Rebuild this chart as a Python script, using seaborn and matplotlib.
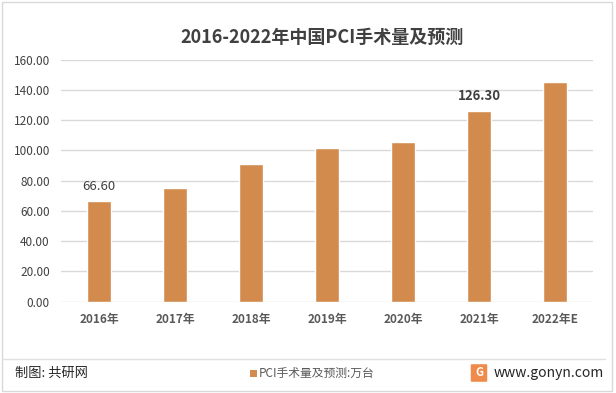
import matplotlib
matplotlib.use("Agg")
import matplotlib.pyplot as plt
import seaborn as sns
import pandas as pd
from matplotlib.patches import Rectangle, FancyBboxPatch
from matplotlib.lines import Line2D

years = ["2016年", "2017年", "2018年", "2019年", "2020年", "2021年", "2022年E"]
values = [66.6, 75.2, 91.0, 101.5, 105.5, 126.3, 145.2]
labeled = {"2016年": "66.60", "2021年": "126.30"}
yticks = [0, 20, 40, 60, 80, 100, 120, 140, 160]
title = "2016-2022年中国PCI手术量及预测"
legend_label = "PCI手术量及预测:万台"

sns.set_theme(style="white")
plt.rcParams['font.family'] = ['Noto Sans CJK SC', 'DejaVu Sans']

bar_color = "#D38B4D"
txt = "#595959"

fig = plt.figure(figsize=(6.16, 3.93), dpi=100)
ax = fig.add_axes([0.099, 0.2323, 0.864, 0.6163])

df = pd.DataFrame({"year": years, "value": values})
sns.barplot(data=df, x="year", y="value", color=bar_color, saturation=1,
            width=0.32, ax=ax, zorder=3)

ax.set_ylim(0, 160)
ax.set_xlim(-0.5, len(years) - 0.5)
ax.set_yticks(yticks)
ax.set_yticklabels([f"{v:.2f}" for v in yticks], fontsize=8.5, color="#404040")
ax.set_xticks(range(len(years)))
ax.set_xticklabels(years, fontsize=8.5, color=txt, fontweight="bold")
ax.tick_params(axis="y", length=0, pad=8)
ax.tick_params(axis="x", length=0, pad=8)
ax.set_xlabel("")
ax.set_ylabel("")
for s in ax.spines.values():
    s.set_visible(False)
ax.grid(axis="y", color="#D9D9D9", linewidth=1, zorder=0)
ax.set_axisbelow(True)

for i, (y, v) in enumerate(zip(years, values)):
    if y in labeled:
        ax.text(i, v + 5, labeled[y], ha="center", va="bottom", fontsize=9.5,
                color="#404040", fontweight="bold" if v > 100 else "normal")

fig.text(0.523, 0.905, title, ha="center", va="center", fontsize=13,
         fontweight="bold", color="#404040")

# border
fig.add_artist(Rectangle((0.004, 0.006), 0.99, 0.988, transform=fig.transFigure,
                         fill=False, edgecolor="#D9D9D9", linewidth=1))
# separator line
sep_y = (393 - 359) / 393
fig.add_artist(Line2D([0.004, 0.982], [sep_y, sep_y], transform=fig.transFigure,
                      color="#E0E0E0", linewidth=1))

# legend
ly = (393 - 373) / 393
fig.add_artist(Rectangle((250 / 616, ly - 3.5 / 393), 7 / 616, 7 / 393,
                         transform=fig.transFigure, facecolor=bar_color, edgecolor="none"))
fig.text(259 / 616, ly, legend_label, ha="left", va="center", fontsize=8.5, color=txt)

fig.text(15 / 616, ly, "制图: 共研网", ha="left", va="center", fontsize=9.5, color="#262626")

# logo
fig.add_artist(FancyBboxPatch((472 / 616, ly - 8 / 393), 14 / 616, 16 / 393,
                              boxstyle="round,pad=0.002", transform=fig.transFigure,
                              facecolor="#F08A4B", edgecolor="none"))
fig.text(479 / 616, ly, "G", ha="center", va="center", fontsize=8, color="white",
         fontweight="bold")
fig.text(494 / 616, ly, "www.gonyn.com", ha="left", va="center", fontsize=10, color="#262626")

fig.savefig("out.png", dpi=100)
